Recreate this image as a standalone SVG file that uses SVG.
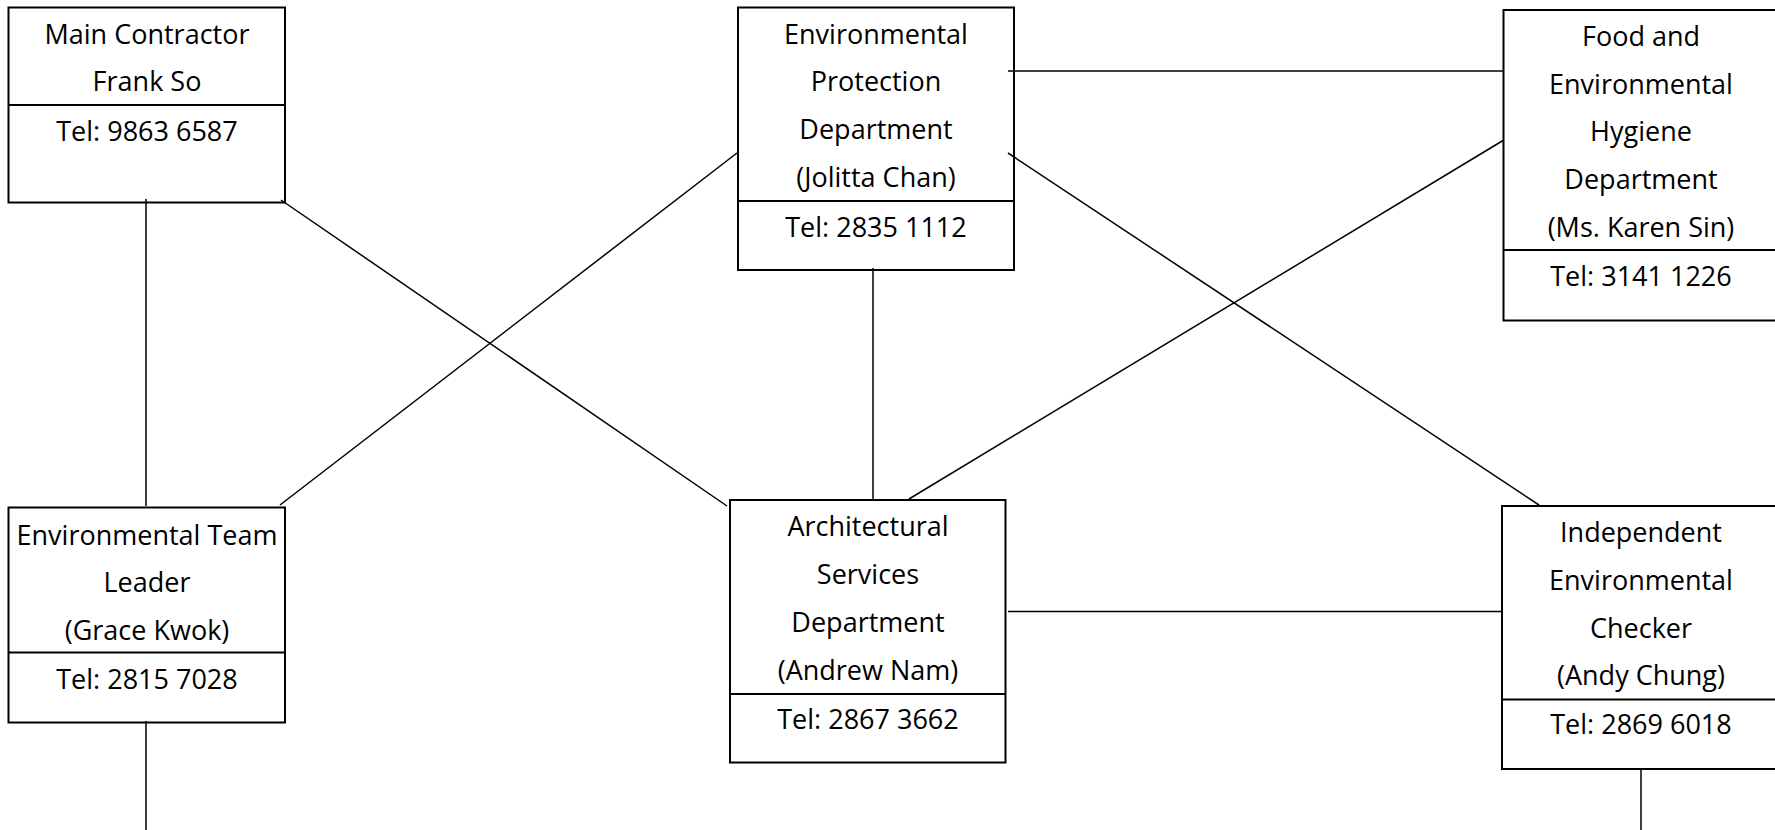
<svg xmlns="http://www.w3.org/2000/svg" width="1775" height="830" viewBox="0 0 1775 830">
<style>
.box{fill:#fff;stroke:#000;stroke-width:2}
.div{stroke:#000;stroke-width:2}
.t{font-family:"Open Sans","Noto Sans",sans-serif;font-size:27px;fill:#000;text-anchor:middle}
.c{stroke:#000;stroke-width:1.5;fill:none}
</style>
<rect width="1775" height="830" fill="#fff"/>
<g id="main-contractor">
<rect class="box" x="8.5" y="7.5" width="276.5" height="195"/>
<line class="div" x1="8.5" y1="105" x2="285" y2="105"/>
<text class="t" x="147" y="43.5">Main Contractor</text>
<text class="t" x="147" y="91">Frank So</text>
<text class="t" x="147" y="140.5">Tel: 9863 6587</text>
</g>
<g id="epd">
<rect class="box" x="738" y="7.5" width="276" height="262.5"/>
<line class="div" x1="738" y1="201" x2="1014" y2="201"/>
<text class="t" x="876" y="43.5">Environmental</text>
<text class="t" x="876" y="91">Protection</text>
<text class="t" x="876" y="139">Department</text>
<text class="t" x="876" y="187">(Jolitta Chan)</text>
<text class="t" x="876" y="236.5">Tel: 2835 1112</text>
</g>
<g id="fehd">
<rect class="box" x="1503.5" y="10" width="276" height="310.5"/>
<line class="div" x1="1503.5" y1="250" x2="1780" y2="250"/>
<text class="t" x="1641" y="45.5">Food and</text>
<text class="t" x="1641" y="93.5">Environmental</text>
<text class="t" x="1641" y="141">Hygiene</text>
<text class="t" x="1641" y="189">Department</text>
<text class="t" x="1641" y="236.5">(Ms. Karen Sin)</text>
<text class="t" x="1641" y="286">Tel: 3141 1226</text>
</g>
<g id="etl">
<rect class="box" x="8.5" y="507.5" width="276.5" height="215"/>
<line class="div" x1="8.5" y1="652.5" x2="285" y2="652.5"/>
<text class="t" x="147" y="544.5">Environmental Team</text>
<text class="t" x="147" y="592">Leader</text>
<text class="t" x="147" y="639.5">(Grace Kwok)</text>
<text class="t" x="147" y="688.5">Tel: 2815 7028</text>
</g>
<g id="asd">
<rect class="box" x="730" y="500" width="275.5" height="262.5"/>
<line class="div" x1="730" y1="694" x2="1005.5" y2="694"/>
<text class="t" x="868" y="536">Architectural</text>
<text class="t" x="868" y="584">Services</text>
<text class="t" x="868" y="632">Department</text>
<text class="t" x="868" y="680">(Andrew Nam)</text>
<text class="t" x="868" y="728.5">Tel: 2867 3662</text>
</g>
<g id="iec">
<rect class="box" x="1502" y="506" width="277" height="263"/>
<line class="div" x1="1502" y1="699.5" x2="1780" y2="699.5"/>
<text class="t" x="1641" y="541.5">Independent</text>
<text class="t" x="1641" y="590">Environmental</text>
<text class="t" x="1641" y="637.5">Checker</text>
<text class="t" x="1641" y="685">(Andy Chung)</text>
<text class="t" x="1641" y="734">Tel: 2869 6018</text>
</g>
<g id="connectors">
<line class="c" x1="146" y1="199" x2="146" y2="506"/>
<line class="c" x1="281" y1="200" x2="727" y2="506"/>
<line class="c" x1="280" y1="505" x2="737" y2="153"/>
<line class="c" x1="1008" y1="71" x2="1503" y2="71"/>
<line class="c" x1="1008" y1="153" x2="1539" y2="505"/>
<line class="c" x1="873" y1="268" x2="873" y2="500"/>
<line class="c" x1="1503" y1="140.5" x2="909" y2="499"/>
<line class="c" x1="1008" y1="611.5" x2="1502" y2="611.5"/>
<line class="c" x1="146" y1="721" x2="146" y2="830"/>
<line class="c" x1="1641" y1="770" x2="1641" y2="830"/>
</g>
</svg>
